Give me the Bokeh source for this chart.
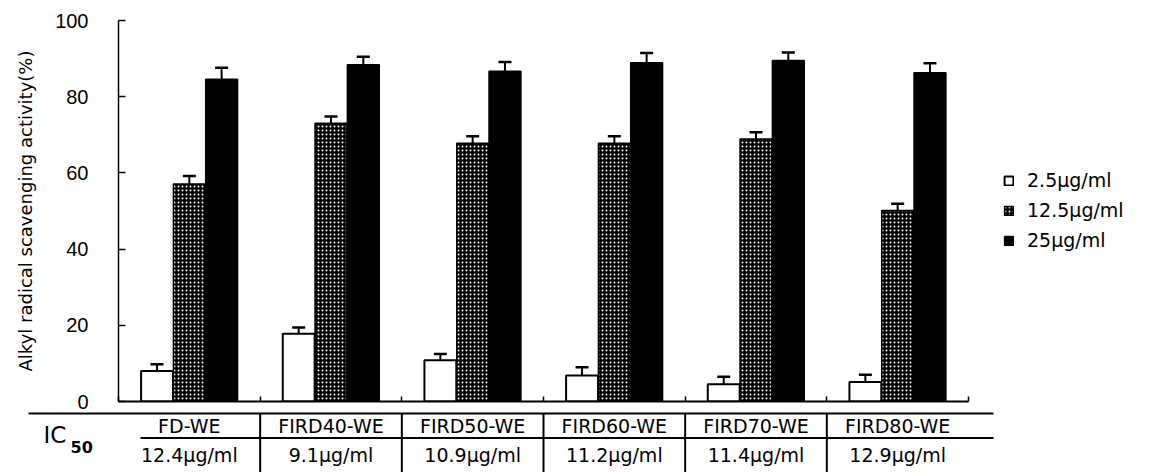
from bokeh.plotting import figure
from bokeh.models import (Range1d, LinearAxis, FixedTicker, Whisker, TeeHead,
                          ColumnDataSource)
from bokeh.transform import dodge
from bokeh.core.properties import value
from bokeh.embed import file_html
from bokeh.resources import INLINE

# ---------------- data ----------------
categories = ["FD-WE", "FIRD40-WE", "FIRD50-WE", "FIRD60-WE", "FIRD70-WE", "FIRD80-WE"]
series_names = ["2.5\u00b5g/ml", "12.5\u00b5g/ml", "25\u00b5g/ml"]
vals_2_5 = [8.0, 17.8, 10.8, 6.8, 4.5, 5.1]
errs_2_5 = [1.8, 1.6, 1.7, 2.2, 2.0, 1.9]
vals_12_5 = [57.1, 73.0, 67.8, 67.8, 68.9, 50.1]
errs_12_5 = [2.1, 1.8, 1.8, 1.8, 1.8, 1.8]
vals_25 = [84.6, 88.4, 86.7, 88.9, 89.5, 86.3]
errs_25 = [3.0, 2.1, 2.4, 2.6, 2.1, 2.5]
ic50_values = ["12.4\u00b5g/ml", "9.1\u00b5g/ml", "10.9\u00b5g/ml", "11.2\u00b5g/ml", "11.4\u00b5g/ml", "12.9\u00b5g/ml"]
y_ticks = [0, 20, 40, 60, 80, 100]
y_label = "Alkyl radical scavenging activity(%)"

n = len(categories)
centers = [i + 0.5 for i in range(n)]
src = ColumnDataSource(dict(
    x=centers, cat=categories, ic=ic50_values,
    v1=vals_2_5, lo1=[v - e for v, e in zip(vals_2_5, errs_2_5)], hi1=[v + e for v, e in zip(vals_2_5, errs_2_5)],
    v2=vals_12_5, lo2=[v - e for v, e in zip(vals_12_5, errs_12_5)], hi2=[v + e for v, e in zip(vals_12_5, errs_12_5)],
    v3=vals_25, lo3=[v - e for v, e in zip(vals_25, errs_25)], hi3=[v + e for v, e in zip(vals_25, errs_25)],
))

UNIT = 850 / 6.0          # pixels per category
LEFT = 118
FRAME_W = 1150 - LEFT

# ---------------- chart ----------------
p = figure(width=1150, height=411, x_range=Range1d(0, FRAME_W / UNIT), y_range=Range1d(0, 100),
           output_backend="svg", toolbar_location=None, x_axis_type=None, y_axis_type=None,
           min_border_left=LEFT, min_border_right=0, min_border_top=20, min_border_bottom=10)
p.outline_line_color = None
p.grid.visible = False

yaxis = LinearAxis(ticker=FixedTicker(ticks=y_ticks), axis_label=y_label,
                   major_tick_in=7, major_tick_out=0, minor_tick_line_color=None,
                   major_label_standoff=30, axis_label_standoff=16,
                   axis_line_width=1.5, major_tick_line_width=1.5,
                   major_label_text_font="Liberation Sans", major_label_text_font_size="20px",
                   major_label_text_color="black",
                   axis_label_text_font="DejaVu Sans", axis_label_text_font_size="18px",
                   axis_label_text_font_style="normal", axis_label_text_color="black")
p.add_layout(yaxis, "left")

boundaries = list(range(n + 1))
xaxis = LinearAxis(ticker=FixedTicker(ticks=boundaries), bounds=(0, n),
                   major_tick_in=5, major_tick_out=0, minor_tick_line_color=None,
                   major_label_overrides={b: "" for b in boundaries},
                   major_label_text_font_size="2px", major_label_standoff=0,
                   axis_line_width=2, major_tick_line_width=1.5)
p.add_layout(xaxis, "below")

W = 0.225
OFF = 0.228
p.vbar(x=dodge("x", -OFF), top="v1", width=W, bottom=0, source=src,
       fill_color="white", line_color="black", line_width=2, legend_label=series_names[0])
p.vbar(x=dodge("x", 0), top="v2", width=W, bottom=0, source=src,
       fill_color="black", line_color="black", line_width=1.5,
       hatch_pattern="dot", hatch_color="white", hatch_scale=4, hatch_weight=1,
       legend_label=series_names[1])
p.vbar(x=dodge("x", OFF), top="v3", width=W, bottom=0, source=src,
       fill_color="black", line_color="black", line_width=1.5, legend_label=series_names[2])

for off, lo, hi in [(-OFF, "lo1", "hi1"), (0, "lo2", "hi2"), (OFF, "lo3", "hi3")]:
    p.add_layout(Whisker(source=src, base=dodge("x", off), lower=lo, upper=hi,
                         line_width=2, line_color="black",
                         upper_head=TeeHead(size=13, line_width=2.5, line_color="black"),
                         lower_head=TeeHead(size=13, line_width=2.5, line_color="black")))

lg = p.legend[0]
lg.location = (885, 150)
lg.padding = 0
lg.margin = 0
lg.border_line_color = None
lg.background_fill_alpha = 0
lg.glyph_width = 11
lg.glyph_height = 11
lg.label_standoff = 13
lg.label_height = 20
lg.spacing = 8
lg.label_text_font = "DejaVu Sans"
lg.label_text_font_size = "19px"
lg.label_text_color = "black"

# ---------------- IC50 table ----------------
t = figure(width=1150, height=61, x_range=Range1d(-LEFT / UNIT, FRAME_W / UNIT),
           y_range=Range1d(472, 411), output_backend="svg", toolbar_location=None,
           x_axis_type=None, y_axis_type=None, min_border=0)
t.outline_line_color = None
t.grid.visible = False

line_end = n + 25 / UNIT
t.segment(x0=[-90 / UNIT, 22 / UNIT], y0=[413, 437.5], x1=[line_end, line_end], y1=[413, 437.5],
          line_color="black", line_width=2)
t.segment(x0=boundaries[1:-1], y0=413, x1=boundaries[1:-1], y1=474,
          line_color="black", line_width=2)
t.text(x="x", y=425, text="cat", source=src, text_align="center", text_baseline="alphabetic",
       text_font=value("DejaVu Sans"), text_font_size="19px", text_color="black")
t.text(x="x", y=454, text="ic", source=src, text_align="center", text_baseline="alphabetic",
       text_font=value("DejaVu Sans"), text_font_size="19px", text_color="black")
t.text(x=[-75 / UNIT], y=[434], text=["IC"], text_align="left", text_baseline="alphabetic",
       text_font=value("DejaVu Sans"), text_font_size="23px", text_color="black")
t.text(x=[-48 / UNIT], y=[446], text=["50"], text_align="left", text_baseline="alphabetic",
       text_font=value("DejaVu Sans"), text_font_size="16px", text_font_style="bold",
       text_color="black")

open("out.html", "w").write(file_html([p, t], INLINE))
